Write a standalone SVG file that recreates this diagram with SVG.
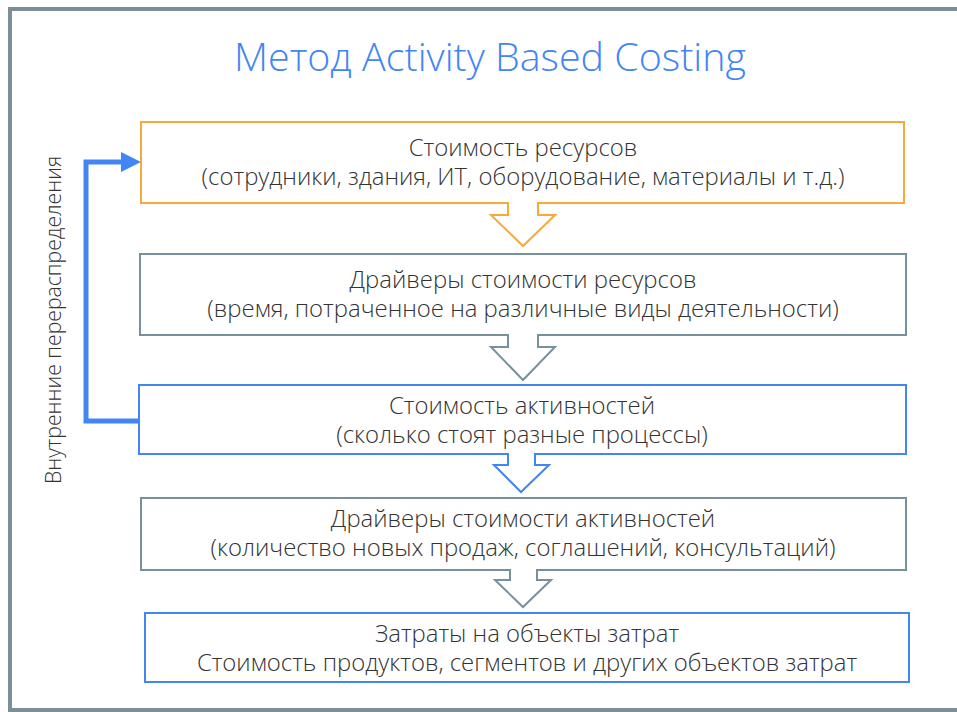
<svg xmlns="http://www.w3.org/2000/svg" width="957" height="712" viewBox="0 0 957 712">
<defs>
<style>
.t{font-family:"Open Sans","Noto Sans",sans-serif;font-weight:300;font-size:23.9px;fill:#333;text-anchor:middle}
.title{font-family:"Open Sans","Noto Sans",sans-serif;font-weight:300;font-size:39.4px;fill:#4285F4;text-anchor:middle}
.side{font-family:"Open Sans","Noto Sans",sans-serif;font-weight:300;font-size:21.2px;fill:#333;text-anchor:middle}
.box{fill:#fff;stroke-width:2}
.orange{stroke:#F9A83B}
.grey{stroke:#78909C}
.blue{stroke:#4285F4}
</style>
<marker id="ah" markerWidth="4" markerHeight="4" refX="0" refY="2" orient="auto" markerUnits="strokeWidth">
<path d="M0,0 L4,2 L0,4 Z" fill="#4285F4"/>
</marker>
</defs>
<rect x="0" y="0" width="957" height="712" fill="#fff"/>
<rect x="10" y="9" width="960" height="701" fill="none" stroke="#7B8F9B" stroke-width="4"/>
<text class="title" x="490" y="71">Метод Activity Based Costing</text>
<g id="connectors">
<path d="M140,421 H86 V162 H121" fill="none" stroke="#4285F4" stroke-width="5" marker-end="url(#ah)"/>
</g>
<text class="side" transform="translate(61,320) rotate(-90)">Внутренние перераспределения</text>
<g id="n1">
<path class="box orange" d="M141,122 H904 V203 H538 V215 H555 L523,246 L491,215 H508 V203 H141 Z"/>
<text class="t" x="523" y="156">Стоимость ресурсов</text>
<text class="t" x="523" y="185">(сотрудники, здания, ИТ, оборудование, материалы и т.д.)</text>
</g>
<g id="n2">
<path class="box grey" d="M140,254 H906 V335 H538 V347 H555 L523,380 L491,347 H508 V335 H140 Z"/>
<text class="t" x="523" y="288">Драйверы стоимости ресурсов</text>
<text class="t" x="523" y="317">(время, потраченное на различные виды деятельности)</text>
</g>
<g id="n3">
<path class="box blue" d="M139,385 H906 V454 H535 V465 H549 L521,492 L494,465 H508 V454 H139 Z"/>
<text class="t" x="522" y="414">Стоимость активностей</text>
<text class="t" x="522" y="443">(сколько стоят разные процессы)</text>
</g>
<g id="n4">
<path class="box grey" d="M141,498 H906 V570 H537 V580 H551 L523,607 L495,580 H510 V570 H141 Z"/>
<text class="t" x="523" y="527">Драйверы стоимости активностей</text>
<text class="t" x="523" y="556">(количество новых продаж, соглашений, консультаций)</text>
</g>
<g id="n5">
<rect class="box blue" x="145" y="613" width="764" height="69"/>
<text class="t" x="527" y="642">Затраты на объекты затрат</text>
<text class="t" x="527" y="671">Стоимость продуктов, сегментов и других объектов затрат</text>
</g>
</svg>
